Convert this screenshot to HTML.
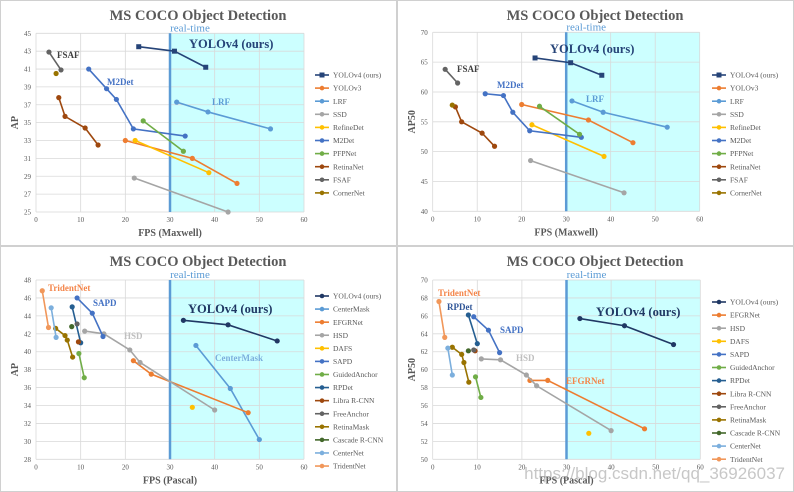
<!DOCTYPE html>
<html><head><meta charset="utf-8"><style>
body{margin:0;background:#fff;}
svg{display:block;font-family:"Liberation Serif",serif;}
</style></head><body>
<svg id="fig" width="794" height="492" viewBox="0 0 794 492"></svg>
<script>
// ---- Chart 1: AP vs FPS (Maxwell)
const c1Names=["YOLOv4 (ours)","YOLOv3","LRF","SSD","RefineDet","M2Det","PFPNet","RetinaNet","FSAF","CornerNet"];
const c1X=[[23,31,38],[20,35,45],[31.5,38.5,52.5],[22,43],[22.2,38.7],[11.8,15.8,18,21.8,33.4],[24,33],[5.1,6.5,11,13.9],[2.9,5.6],[4.5]];
const c1Y=[[43.5,43,41.2],[33,31,28.2],[37.3,36.2,34.3],[28.8,25],[33,29.4],[41,38.8,37.6,34.3,33.5],[35.2,31.8],[37.8,35.7,34.4,32.5],[42.9,40.9],[40.5]];
const c1YTicks=[25,27,29,31,33,35,37,39,41,43,45];
// ---- Chart 2: AP50 vs FPS (Maxwell)
const c2Names=c1Names;
const c2X=[[23,31,38],[20,35,45],[31.3,38.3,52.7],[22,43],[22.3,38.5],[11.8,15.9,18,21.8,33.4],[24,33],[5.1,6.5,11.1,13.9],[2.8,5.6],[4.4]];
const c2Y=[[65.7,64.9,62.8],[57.9,55.3,51.5],[58.5,56.6,54.1],[48.5,43.1],[54.5,49.2],[59.7,59.4,56.6,53.5,52.4],[57.6,52.9],[57.5,55,53.1,50.9],[63.8,61.5],[57.8]];
const c2YTicks=[40,45,50,55,60,65,70];
// ---- Chart 3: AP vs FPS (Pascal)
const c3Names=["YOLOv4 (ours)","CenterMask","EFGRNet","HSD","DAFS","SAPD","GuidedAnchor","RPDet","Libra R-CNN","FreeAnchor","RetinaMask","Cascade R-CNN","CenterNet","TridentNet"];
const c3X=[[33,43,54],[35.8,43.5,50],[21.8,25.8,47.5],[10.9,15.2,21,23.3,40],[35],[9.2,12.6,15],[9.6,10.8],[8.1,10],[9.5],[9.2],[4.4,6.5,7,8.2],[8],[3.4,4.5],[1.4,2.8]];
const c3Y=[[43.5,43,41.2],[40.7,35.9,30.2],[39,37.5,33.2],[42.3,42,40.2,38.8,33.5],[33.8],[46,44.3,41.7],[39.8,37.1],[45,41],[41.1],[43.1],[42.6,41.8,41.3,39.4],[42.8],[44.9,41.6],[46.8,42.7]];
const c3YTicks=[28,30,32,34,36,38,40,42,44,46,48];
// ---- Chart 4: AP50 vs FPS (Pascal)
const c4Names=["YOLOv4 (ours)","EFGRNet","HSD","DAFS","SAPD","GuidedAnchor","RPDet","Libra R-CNN","FreeAnchor","RetinaMask","Cascade R-CNN","CenterNet","TridentNet"];
const c4X=[[33,43,54],[21.8,25.8,47.5],[10.9,15.2,21,23.3,40],[35],[9.2,12.5,15],[9.6,10.8],[8,10],[9.5],[9.2],[4.4,6.5,7,8.1],[8],[3.4,4.4],[1.4,2.7]];
const c4Y=[[65.7,64.9,62.8],[58.8,58.8,53.4],[61.2,61.1,59.4,58.2,53.2],[52.9],[65.9,64.4,61.9],[59.2,56.9],[66.1,62.9],[62.1],[62.2],[62.5,61.7,60.8,58.6],[62.1],[62.4,59.4],[67.6,63.6]];
const c4YTicks=[50,52,54,56,58,60,62,64,66,68,70];
const xTicks=[0,10,20,30,40,50,60];

const colA={"YOLOv4 (ours)":"#264478","YOLOv3":"#ed7d31","LRF":"#5b9bd5","SSD":"#a5a5a5","RefineDet":"#ffc000","M2Det":"#4472c4","PFPNet":"#70ad47","RetinaNet":"#9e480e","FSAF":"#636363","CornerNet":"#997300"};
const colB={"YOLOv4 (ours)":"#203864","CenterMask":"#5b9bd5","EFGRNet":"#ed7d31","HSD":"#a5a5a5","DAFS":"#ffc000","SAPD":"#4472c4","GuidedAnchor":"#70ad47","RPDet":"#255e91","Libra R-CNN":"#9e480e","FreeAnchor":"#636363","RetinaMask":"#997300","Cascade R-CNN":"#43682b","CenterNet":"#7cafdd","TridentNet":"#f1975a"};

const NS="http://www.w3.org/2000/svg";
const svg=document.getElementById('fig');
function mk(tag,attrs,parent,txt){const e=document.createElementNS(NS,tag);for(const k in attrs)e.setAttribute(k,attrs[k]);if(txt!==undefined)e.textContent=txt;(parent||svg).appendChild(e);return e;}

function chart(cfg){
  const g=mk('g',{});
  
  
  const {ox,oy,L,R,T,B,ymin,ymax}=cfg;
  const sx=v=>ox+L+(v-0)/60*(R-L);
  const sy=v=>oy+B-(v-ymin)/(ymax-ymin)*(B-T);
  const border=mk('rect',{x:ox+0.5,y:oy+0.5,width:396,height:245,fill:'none',stroke:'#d0d0d0','stroke-width':1},g);
  
  
  const shade=mk('rect',{x:sx(30),y:oy+T,width:sx(60)-sx(30),height:B-T,fill:'#ccffff'},g);
  
  
  cfg.yTicks.forEach(t=>{
    const ln=mk('line',{x1:ox+L,x2:ox+R,y1:sy(t),y2:sy(t),stroke:'#d9d9d9','stroke-width':0.8},g);
    
    
    const tx=mk('text',{x:ox+L-5,y:sy(t)+2.5,'font-size':7,fill:'#595959','text-anchor':'end'},g,String(t));
    
    
  });
  xTicks.forEach(t=>{
    const ln=mk('line',{x1:sx(t),x2:sx(t),y1:oy+T,y2:oy+B,stroke:'#d9d9d9','stroke-width':0.8},g);
    
    
    const tx=mk('text',{x:sx(t),y:oy+B+10,'font-size':7,fill:'#595959','text-anchor':'middle'},g,String(t));
    
    
  });
  const rt=mk('line',{x1:sx(30),x2:sx(30),y1:oy+T,y2:oy+B,stroke:'#5b9bd5','stroke-width':2.5},g);
  
  
  const title=mk('text',{x:ox+198,y:oy+20,'font-size':14.5,'font-weight':'bold',fill:'#595959','text-anchor':'middle'},g,'MS COCO Object Detection');
  
  
  const rtl=mk('text',{x:sx(30)+20,y:oy+T-2,'font-size':11,fill:'#5b9bd5','text-anchor':'middle'},g,'real-time');
  
  
  const yt=mk('text',{x:ox+18,y:oy+(T+B)/2,'font-size':10,'font-weight':'bold',fill:'#595959','text-anchor':'middle',transform:`rotate(-90 ${ox+18} ${oy+(T+B)/2})`},g,cfg.yTitle);
  
  
  const xt=mk('text',{x:ox+(L+R)/2,y:oy+B+24,'font-size':10,'font-weight':'bold',fill:'#595959','text-anchor':'middle'},g,cfg.xTitle);
  
  
  // series
  cfg.names.forEach((n,i)=>{
    const c=cfg.colors[n];
    const sg=mk('g',{},g);
    
    
    const xs=cfg.X[i], ys=cfg.Y[i];
    if(xs.length>1){
      const pts=xs.map((x,j)=>sx(x)+','+sy(ys[j])).join(' ');
      const pl=mk('polyline',{points:pts,fill:'none',stroke:c,'stroke-width':1.6},sg);
      
      
    }
    xs.forEach((x,j)=>{
      let m;
      if(cfg.square&&i===0) m=mk('rect',{x:sx(x)-2.5,y:sy(ys[j])-2.5,width:5,height:5,fill:c},sg);
      else m=mk('circle',{cx:sx(x),cy:sy(ys[j]),r:2.6,fill:c},sg);
      
      
    });
    // legend
    const ly=oy+cfg.legTop+i*cfg.legStep;
    const lx=ox+322;
    const le=mk('g',{},g);
    
    
    mk('line',{x1:lx-7,x2:lx+7,y1:ly,y2:ly,stroke:c,'stroke-width':1.6},le);
    if(cfg.square&&i===0) mk('rect',{x:lx-2.5,y:ly-2.5,width:5,height:5,fill:c},le);
    else mk('circle',{cx:lx,cy:ly,r:2.3,fill:c},le);
    mk('text',{x:lx+11,y:ly+2.6,'font-size':7.5,fill:'#595959'},le,n);
  });
  cfg.notes.forEach(a=>{
    const t=mk('text',{x:ox+a[1],y:oy+a[2],'font-size':a[4]||9,'font-weight':'bold',fill:a[3]},g,a[0]);
    
    
  });
}

chart({id:'chart-ap-maxwell',ox:0,oy:0,L:36,R:304,T:33.3,B:212,ymin:25,ymax:45,yTicks:c1YTicks,names:c1Names,X:c1X,Y:c1Y,colors:colA,square:true,
  yTitle:'AP',xTitle:'FPS (Maxwell)',legTop:75,legStep:13.1,
  notes:[['FSAF',57,58,'#404040',9],['M2Det',107,85,'#4472c4',9],['LRF',212,105,'#5b9bd5',9],['YOLOv4 (ours)',189,48,'#264478',12.5]]});
chart({id:'chart-ap50-maxwell',ox:397,oy:0,L:35.7,R:302.7,T:32.3,B:211.3,ymin:40,ymax:70,yTicks:c2YTicks,names:c2Names,X:c2X,Y:c2Y,colors:colA,square:true,
  yTitle:'AP50',xTitle:'FPS (Maxwell)',legTop:75,legStep:13.1,
  notes:[['FSAF',60,72,'#404040',9],['M2Det',100,88,'#4472c4',9],['LRF',189,102,'#5b9bd5',9],['YOLOv4 (ours)',153,53,'#264478',12.5]]});
chart({id:'chart-ap-pascal',ox:0,oy:246,L:36,R:304,T:34,B:213.3,ymin:28,ymax:48,yTicks:c3YTicks,names:c3Names,X:c3X,Y:c3Y,colors:colB,square:false,
  yTitle:'AP',xTitle:'FPS (Pascal)',legTop:50,legStep:13.08,
  notes:[['TridentNet',48,45,'#f4854a',9],['SAPD',93,60,'#4472c4',9],['HSD',124,93,'#bfbfbf',9],['YOLOv4 (ours)',188,67,'#203864',12.5],['CenterMask',215,115,'#7cafdd',9]]});
chart({id:'chart-ap50-pascal',ox:397,oy:246,L:35.7,R:303.3,T:34,B:213.3,ymin:50,ymax:70,yTicks:c4YTicks,names:c4Names,X:c4X,Y:c4Y,colors:colB,square:false,
  yTitle:'AP50',xTitle:'FPS (Pascal)',legTop:56,legStep:13.1,
  notes:[['TridentNet',41,50,'#f4854a',9],['RPDet',50,64,'#2f5597',9],['SAPD',103,87,'#4472c4',9],['HSD',119,115,'#bfbfbf',9],['EFGRNet',169,138,'#f4854a',9],['YOLOv4 (ours)',199,70,'#203864',12.5]]});

const wm=mk('text',{x:785,y:479,'font-size':17,fill:'#999','fill-opacity':0.55,'text-anchor':'end','font-family':'Liberation Sans, sans-serif'},svg,'https://blog.csdn.net/qq_36926037');


</script>
</body></html>
